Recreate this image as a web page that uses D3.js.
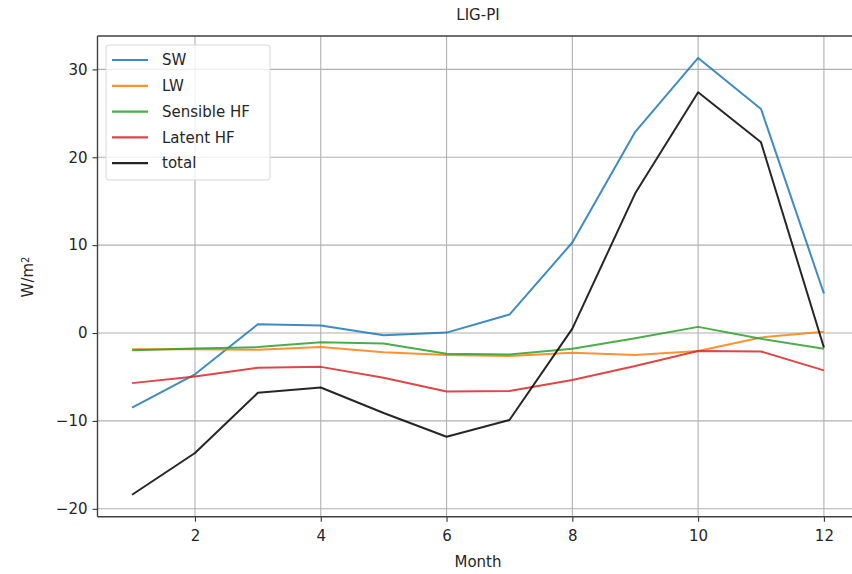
<!DOCTYPE html>
<html><head><meta charset="utf-8">
<script src="https://cdn.jsdelivr.net/npm/d3@7"></script>
<style>body{margin:0;background:#fff}svg{display:block}text{font-family:"DejaVu Sans",sans-serif;fill:#262626}</style>
</head><body><svg id="c" width="852" height="574"></svg>
<script>
const months = [1,2,3,4,5,6,7,8,9,10,11,12];
const seriesNames = ["SW","LW","Sensible HF","Latent HF","total"];
const sw = [-8.5,-4.7,1.0,0.85,-0.25,0.05,2.1,10.3,22.9,31.3,25.5,4.5];
const lw = [-1.85,-1.85,-1.9,-1.6,-2.2,-2.5,-2.6,-2.25,-2.5,-2.05,-0.5,0.15];
const sensible = [-1.95,-1.75,-1.6,-1.05,-1.2,-2.35,-2.45,-1.8,-0.6,0.7,-0.65,-1.8];
const latent = [-5.7,-4.95,-3.95,-3.85,-5.1,-6.65,-6.6,-5.35,-3.75,-2.05,-2.1,-4.25];
const total = [-18.4,-13.65,-6.8,-6.2,-9.1,-11.8,-9.9,0.5,15.9,27.4,21.7,-1.65];
const yTicks = [-20,-10,0,10,20,30];
const xTicks = [2,4,6,8,10,12];
const colors = ["#1f77b4","#ff7f0e","#2ca02c","#d62728","#000000"];
const allSeries = [sw,lw,sensible,latent,total];

const svg = d3.select("#c");
const L=97.5, R=858.5, T=36, B=516.7;
const x = d3.scaleLinear().domain([0.45,12.55]).range([L,R]);
const y = d3.scaleLinear().domain([-20.9,33.8]).range([B,T]);

// grid
const g = svg.append("g");
g.selectAll(".gx").data(xTicks).join("line").attr("x1",d=>x(d)).attr("x2",d=>x(d)).attr("y1",T).attr("y2",B)
 .attr("stroke","#b0b0b0").attr("stroke-width",1.1);
g.selectAll(".gy").data(yTicks).join("line").attr("y1",d=>y(d)).attr("y2",d=>y(d)).attr("x1",L).attr("x2",R)
 .attr("stroke","#b0b0b0").attr("stroke-width",1.1);

// lines
const line = d3.line().x((d,i)=>x(months[i])).y(d=>y(d));
allSeries.forEach((s,k)=>{
  svg.append("path").datum(s).attr("d",line).attr("fill","none").attr("stroke",colors[k])
    .attr("stroke-width",2).attr("stroke-linejoin","round").attr("opacity",k===4?0.85:0.85);
});

// axes
const fmt = d3.format("d");
const xa = svg.append("g").attr("transform",`translate(0,${B})`)
  .call(d3.axisBottom(x).tickValues(xTicks).tickSize(5).tickPadding(5).tickFormat(fmt));
const ya = svg.append("g").attr("transform",`translate(${L},0)`)
  .call(d3.axisLeft(y).tickValues(yTicks).tickSize(5).tickPadding(5).tickFormat(d=>d3.format("d")(d).replace("-","\u2212")));
[xa,ya].forEach(a=>{
  a.selectAll("text").style("font-size","15px").attr("fill","#262626");
  a.selectAll("line").attr("stroke","#333").attr("stroke-width",1.1);
  a.select(".domain").remove();
});
xa.selectAll("text").attr("dy","0.95em");
// spines
svg.append("line").attr("x1",L).attr("x2",R).attr("y1",B).attr("y2",B).attr("stroke","#404040").attr("stroke-width",1.4);
svg.append("line").attr("x1",L).attr("x2",R).attr("y1",T).attr("y2",T).attr("stroke","#404040").attr("stroke-width",1.4);
svg.append("line").attr("x1",L).attr("x2",L).attr("y1",T).attr("y2",B).attr("stroke","#404040").attr("stroke-width",1.4);

// labels
svg.append("text").attr("x",478).attr("y",20).attr("text-anchor","middle").style("font-size","15px").text("LIG-PI");
svg.append("text").attr("x",478).attr("y",567).attr("text-anchor","middle").style("font-size","15px").text("Month");
const yl = svg.append("text").attr("transform","translate(33,277) rotate(-90)").attr("text-anchor","middle").style("font-size","15px");
yl.append("tspan").text("W/m");
yl.append("tspan").attr("dy","-0.45em").style("font-size","10px").text("2");

// legend
const lg = svg.append("g");
lg.append("rect").attr("x",106).attr("y",45).attr("width",164).attr("height",135).attr("rx",3)
  .attr("fill","#fff").attr("fill-opacity",0.8).attr("stroke","#d8d8d8").attr("stroke-width",1);
seriesNames.forEach((n,k)=>{
  const yy = 60 + k*25.8;
  lg.append("line").attr("x1",112).attr("x2",148).attr("y1",yy).attr("y2",yy).attr("stroke",colors[k]).attr("stroke-width",2.2).attr("opacity",0.85);
  lg.append("text").attr("x",162).attr("y",yy).attr("dy","0.35em").style("font-size","15px").text(n);
});
</script></body></html>
